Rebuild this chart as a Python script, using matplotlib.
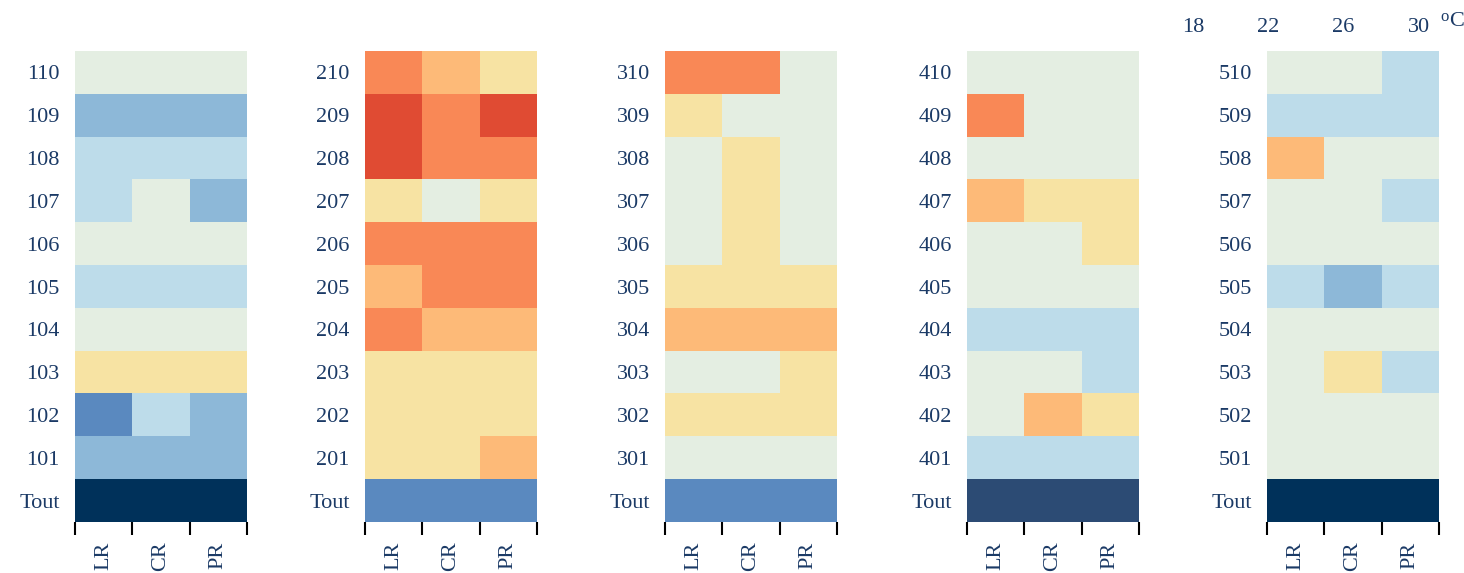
import numpy as np
import matplotlib
matplotlib.use('Agg')
import matplotlib.pyplot as plt
from matplotlib.colors import ListedColormap

# colour classes, coldest to hottest
palette = ['#00315a', '#2c4b74', '#5a89bf', '#8db8d8', '#bddcea',
           '#e4eee2', '#f7e3a3', '#fdba78', '#f98856', '#e04b33']

columns = ['LR', 'CR', 'PR']
legend_ticks = ['18', '22', '26', '30']

# rows from top (x10) down to x01, then "Tout"
rows_1 = ['110', '109', '108', '107', '106', '105', '104', '103', '102', '101', 'Tout']
vals_1 = [[5, 5, 5], [3, 3, 3], [4, 4, 4], [4, 5, 3], [5, 5, 5], [4, 4, 4],
          [5, 5, 5], [6, 6, 6], [2, 4, 3], [3, 3, 3], [0, 0, 0]]

rows_2 = ['210', '209', '208', '207', '206', '205', '204', '203', '202', '201', 'Tout']
vals_2 = [[8, 7, 6], [9, 8, 9], [9, 8, 8], [6, 5, 6], [8, 8, 8], [7, 8, 8],
          [8, 7, 7], [6, 6, 6], [6, 6, 6], [6, 6, 7], [2, 2, 2]]

rows_3 = ['310', '309', '308', '307', '306', '305', '304', '303', '302', '301', 'Tout']
vals_3 = [[8, 8, 5], [6, 5, 5], [5, 6, 5], [5, 6, 5], [5, 6, 5], [6, 6, 6],
          [7, 7, 7], [5, 5, 6], [6, 6, 6], [5, 5, 5], [2, 2, 2]]

rows_4 = ['410', '409', '408', '407', '406', '405', '404', '403', '402', '401', 'Tout']
vals_4 = [[5, 5, 5], [8, 5, 5], [5, 5, 5], [7, 6, 6], [5, 5, 6], [5, 5, 5],
          [4, 4, 4], [5, 5, 4], [5, 7, 6], [4, 4, 4], [1, 1, 1]]

rows_5 = ['510', '509', '508', '507', '506', '505', '504', '503', '502', '501', 'Tout']
vals_5 = [[5, 5, 4], [4, 4, 4], [7, 5, 5], [5, 5, 4], [5, 5, 5], [4, 3, 4],
          [5, 5, 5], [5, 6, 4], [5, 5, 5], [5, 5, 5], [0, 0, 0]]

panels = [(rows_1, vals_1), (rows_2, vals_2), (rows_3, vals_3),
          (rows_4, vals_4), (rows_5, vals_5)]

text_col = '#1b3a66'
plt.rcParams['font.family'] = ['Liberation Serif', 'DejaVu Serif']
fs = 16

W, H = 1464, 573
fig = plt.figure(figsize=(W / 100, H / 100), dpi=100)
cmap = ListedColormap(palette)

lefts = [75, 365, 665, 967, 1267]
for left, (rows, vals) in zip(lefts, panels):
    ax = fig.add_axes([left / W, (H - 522) / H, 172 / W, 471 / H])
    ax.imshow(np.array(vals), cmap=cmap, vmin=-0.5, vmax=9.5,
              aspect='auto', interpolation='nearest')
    for s in ax.spines.values():
        s.set_visible(False)
    ax.set_yticks(range(len(rows)))
    ax.set_yticklabels(rows, fontsize=fs, color=text_col)
    ax.tick_params(axis='y', length=0, pad=11)
    ax.set_xticks([-0.5, 0.5, 1.5, 2.5])
    ax.set_xticklabels([])
    ax.tick_params(axis='x', which='major', length=9.5, width=1.5, color='black')
    ax.set_xticks([0, 1, 2], minor=True)
    ax.set_xticklabels(columns, minor=True, rotation=90, fontsize=fs, color=text_col)
    ax.tick_params(axis='x', which='minor', length=0, pad=14)
    ax.set_xlim(-0.5, 2.5)
    ax.set_ylim(len(rows) - 0.5, -0.5)

# temperature legend labels
for i, t in enumerate(legend_ticks):
    fig.text((1193 + i * 75.3) / W, 1 - 27 / H, t, fontsize=fs, color=text_col,
             ha='center', va='center')
fig.text(1440 / W, 1 - 17 / H, 'o', fontsize=12, color=text_col,
         ha='left', va='center')
fig.text(1449 / W, 1 - 21 / H, 'C', fontsize=fs, color=text_col,
         ha='left', va='center')

fig.savefig('out.png', dpi=100)
